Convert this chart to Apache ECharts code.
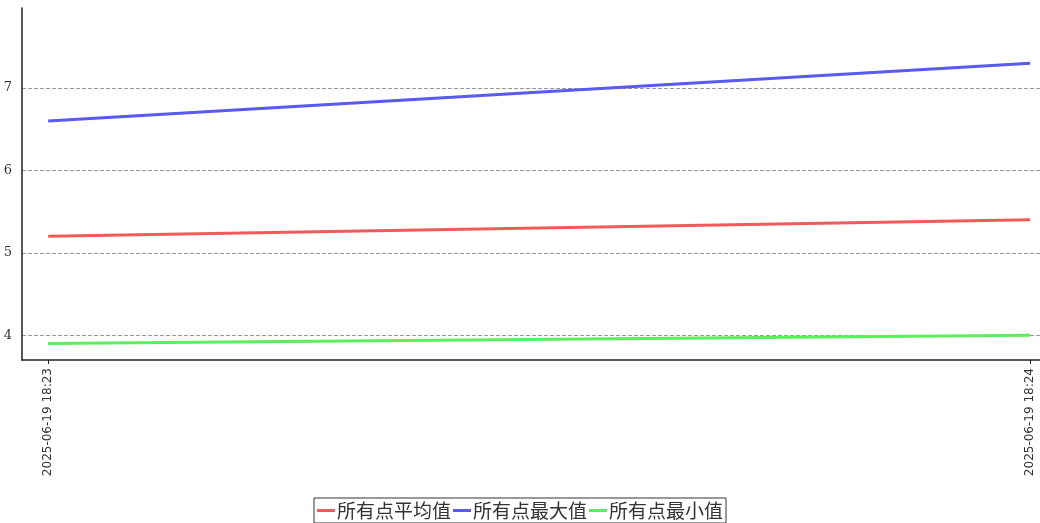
<!DOCTYPE html>
<html>
<head>
<meta charset="utf-8">
<script src="https://cdn.jsdelivr.net/npm/echarts@6/dist/echarts.min.js"></script>
<style>html,body{margin:0;padding:0;background:#fff}#main{width:1040px;height:523px}</style>
</head>
<body>
<div id="main"></div>
<script>
var times = ['2025-06-19 18:23', '2025-06-19 18:24'];
var seconds = [0, 60];
var avgValues = [5.2, 5.4];
var maxValues = [6.6, 7.3];
var minValues = [3.9, 4.0];
var seriesNames = ['所有点平均值', '所有点最大值', '所有点最小值'];
var yTicks = [4, 5, 6, 7];

function pairs(vals) {
	var out = [];
	for (var i = 0; i < vals.length; i++) out.push([seconds[i], vals[i]]);
	return out;
}

var dom = document.getElementById('main');
var myChart = echarts.init(dom);
var option = {
	color : [ '#f05a5a', '#5a5af0', '#5af05a' ],
	animation : false,
	grid : { left : 22, right : 0, top : 8, bottom : 163 },
	legend : {
		data : seriesNames,
		bottom : 0,
		itemGap : 2,
		itemWidth : 18,
		itemHeight : 3,
		padding : [ 3, 3 ],
		borderColor : '#333',
		borderWidth : 1,
		icon : 'rect',
		textStyle : { fontSize : 19, color : '#333', fontFamily : 'Noto Sans CJK SC', padding : [ 0, 0, 0, -3 ] }
	},
	xAxis : {
		type : 'value',
		min : -1.6,
		max : 60.6,
		splitLine : { show : false },
		axisLine : { lineStyle : { color : '#222', width : 1.5 } },
		axisTick : { show : true, customValues : seconds, length : 4 },
		axisLabel : {
			customValues : seconds,
			rotate : 90,
			fontSize : 12,
			color : '#333',
			fontFamily : 'DejaVu Sans',
			formatter : function(v) { return times[seconds.indexOf(v)] || ''; }
		}
	},
	yAxis : {
		type : 'value',
		min : 3.7,
		max : 7.97,
		axisLine : { show : true, onZero : false, lineStyle : { color : '#222', width : 1.5 } },
		axisTick : { show : false },
		axisLabel : {
			customValues : yTicks,
			color : '#333',
			fontSize : 13,
			fontFamily : 'DejaVu Serif',
			margin : 10
		},
		splitLine : { show : true, showMinLine : false, showMaxLine : false, lineStyle : { color : '#999', type : 'dashed', width : 1 } }
	},
	series : [ {
		name : seriesNames[0], type : 'line', symbol : 'none', lineStyle : { width : 3 }, data : pairs(avgValues)
	}, {
		name : seriesNames[1], type : 'line', symbol : 'none', lineStyle : { width : 3 }, data : pairs(maxValues)
	}, {
		name : seriesNames[2], type : 'line', symbol : 'none', lineStyle : { width : 3 }, data : pairs(minValues)
	} ]
};
myChart.setOption(option, true);
</script>
</body>
</html>
